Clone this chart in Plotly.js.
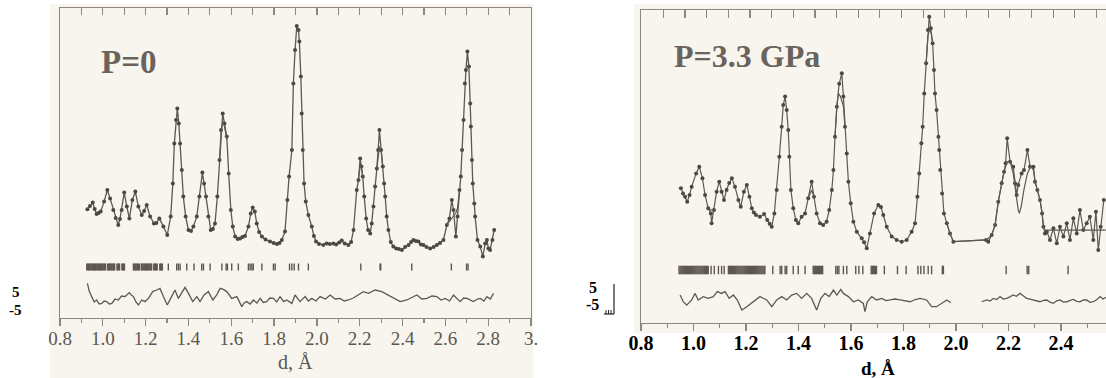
<!DOCTYPE html>
<html>
<head>
<meta charset="utf-8">
<script src="https://cdn.plot.ly/plotly-3.0.1.min.js"></script>
<style>html,body{margin:0;padding:0;background:#fff;}#chart{width:1106px;height:378px;}</style>
</head>
<body>
<div id="chart"></div>
<script>
// ---------- DATA (d in Å, intensity in arbitrary units; difference in the ±5 scale) ----------
const panelTitles = ["P=0", "P=3.3 GPa"];
const axisTitle = "d, Å";
const tickValsL = [0.8,1.0,1.2,1.4,1.6,1.8,2.0,2.2,2.4,2.6,2.8,3.0];
const tickTextL = ["0.8","1.0","1.2","1.4","1.6","1.8","2.0","2.2","2.4","2.6","2.8","3."];
const tickValsR = [0.8,1.0,1.2,1.4,1.6,1.8,2.0,2.2,2.4];
const tickTextR = ["0.8","1.0","1.2","1.4","1.6","1.8","2.0","2.2","2.4"];
const diffLabels = ["5","-5"];

// P=0 observed profile [d, I]
const obsL = [[0.928,45.4],[0.940,47.0],[0.953,48.7],[0.962,45.5],[0.971,43],[0.980,43.5],[0.990,44.2],[1.006,49.2],[1.021,55],[1.034,50.8],[1.049,45],[1.060,41],[1.072,37.5],[1.080,40.5],[1.088,45],[1.100,53.7],[1.112,46.7],[1.124,40.8],[1.138,50],[1.152,54.2],[1.166,46.7],[1.182,42.5],[1.193,44.5],[1.205,47.5],[1.221,41.7],[1.239,38.3],[1.250,38.5],[1.264,40.8],[1.283,36.7],[1.301,32.5],[1.317,41.7],[1.327,58.3],[1.334,78.3],[1.342,90],[1.348,95.8],[1.355,88.3],[1.361,78.3],[1.369,65],[1.376,51.7],[1.387,41.7],[1.400,35],[1.412,34.5],[1.423,36.7],[1.439,41.7],[1.451,51.7],[1.465,63.7],[1.473,58.3],[1.482,51.7],[1.493,41.7],[1.504,35],[1.514,35.5],[1.524,38.3],[1.535,51.7],[1.545,70],[1.552,85],[1.560,93.3],[1.568,88.3],[1.579,81.7],[1.588,63.3],[1.598,45],[1.607,36.7],[1.618,31.7],[1.630,30.5],[1.641,30.8],[1.652,31.5],[1.664,32],[1.680,36.7],[1.691,43.3],[1.700,46.3],[1.710,44.2],[1.719,38.3],[1.730,34],[1.743,31.7],[1.760,30.2],[1.781,29.2],[1.798,28.5],[1.813,28],[1.825,28.5],[1.836,30],[1.851,34.2],[1.862,50],[1.870,61.7],[1.883,75],[1.890,108.3],[1.898,125],[1.906,137],[1.914,135],[1.918,129.2],[1.925,111.7],[1.929,93.3],[1.934,75],[1.940,58.3],[1.948,49.2],[1.960,42.5],[1.976,36.7],[1.986,32],[1.996,29.2],[2.010,28],[2.030,27.5],[2.045,28.3],[2.060,28],[2.077,28.3],[2.090,27.8],[2.104,28.8],[2.116,29.7],[2.130,28.2],[2.147,27.5],[2.160,29],[2.171,35],[2.186,55],[2.194,60],[2.202,70.8],[2.208,66.7],[2.214,61.7],[2.221,51.7],[2.230,40.8],[2.239,35],[2.249,33.3],[2.256,38.3],[2.264,46.7],[2.272,56.7],[2.280,65.8],[2.286,75],[2.292,85],[2.300,75],[2.308,66.7],[2.314,58.3],[2.319,51.7],[2.326,41.7],[2.334,35],[2.345,29],[2.357,26.7],[2.370,25.8],[2.383,25.5],[2.397,25],[2.412,26.5],[2.428,27.5],[2.440,29],[2.451,30],[2.462,29.5],[2.474,29.2],[2.486,27.8],[2.498,27.5],[2.512,26.5],[2.529,25.8],[2.545,26.5],[2.560,27.5],[2.575,28.5],[2.591,30],[2.607,37.5],[2.619,40.8],[2.630,50],[2.638,45],[2.649,31.7],[2.657,41.7],[2.666,55],[2.672,61.7],[2.678,75],[2.685,90],[2.691,108.3],[2.696,115],[2.703,124.2],[2.710,116.7],[2.716,98.3],[2.719,86.7],[2.724,70],[2.728,58.3],[2.735,48.3],[2.739,41.7],[2.750,30],[2.763,26.7],[2.775,21.7],[2.786,28.3],[2.794,30],[2.801,25.8],[2.809,25],[2.820,30],[2.828,35]];

// P=0 calculated profile where it departs from the observed points (null = break)
const calcL = [[1.545,70],[1.552,84],[1.560,89],[1.568,87],[1.579,80],[null,null],
  [2.194,60],[2.202,66.7],[2.208,66.7],[2.214,61.7],[null,null],
  [2.280,65.8],[2.286,73],[2.292,76.7],[2.300,75],[2.308,66.7],[null,null],
  [2.607,37.5],[2.619,39.5],[2.630,41],[2.638,42],[2.649,43.5],[2.657,46],[2.666,55]];

// P=0 difference curve
const diffL = [[0.928,8.3],[0.937,4.2],[0.948,1.7],[0.960,-1],[0.971,0],[0.983,-2],[0.995,-1.7],[1.006,-0.5],[1.018,-0.8],[1.030,-2],[1.042,-1.7],[1.057,0.5],[1.072,0],[1.088,2],[1.104,1.7],[1.124,3.7],[1.133,2.5],[1.143,1.7],[1.155,-1],[1.166,-2.5],[1.182,0],[1.197,-0.8],[1.213,0.8],[1.233,4.2],[1.252,5],[1.267,5.8],[1.283,1.7],[1.301,-2.5],[1.317,0.8],[1.337,5],[1.353,0.8],[1.369,3.3],[1.384,6.3],[1.400,3.3],[1.420,-0.8],[1.439,1.7],[1.454,-0.8],[1.473,2.5],[1.493,4.2],[1.514,0],[1.532,2.5],[1.548,5.8],[1.563,5.3],[1.579,4.2],[1.602,0.8],[1.626,1.7],[1.649,-3.3],[1.660,-1.5],[1.672,-0.8],[1.688,-2],[1.703,0],[1.720,-1.5],[1.735,0.8],[1.750,-1.2],[1.766,-0.8],[1.780,1],[1.797,0.8],[1.812,-1],[1.828,1.7],[1.845,-0.8],[1.859,0],[1.883,-1.7],[1.898,2.5],[1.921,-0.8],[1.945,1.7],[1.960,-0.5],[1.976,0.8],[1.995,-0.5],[2.015,1.7],[2.040,0.5],[2.062,2.5],[2.085,0.5],[2.108,0.8],[2.128,-0.5],[2.147,0],[2.170,1],[2.194,2.5],[2.217,4.2],[2.241,3.3],[2.272,5],[2.303,4.2],[2.334,2.5],[2.365,0.8],[2.389,-0.8],[2.420,0],[2.445,1.5],[2.467,2.5],[2.490,0.5],[2.514,0.8],[2.537,2],[2.560,1.7],[2.580,0],[2.599,0.8],[2.620,-0.5],[2.638,2.5],[2.669,-0.8],[2.685,1],[2.701,0.8],[2.731,-0.8],[2.750,0.5],[2.763,0.8],[2.780,-0.5],[2.794,1.7],[2.810,0.5],[2.825,3.3]];

// P=0 reflection positions
const reflL = [0.925,0.929,0.933,0.937,0.941,0.945,0.949,0.953,0.957,0.961,0.965,0.969,0.973,0.977,0.981,0.985,0.989,0.993,0.997,1.001,1.005,1.009,1.013,1.023,1.027,1.031,1.035,1.039,1.043,1.047,1.051,1.055,1.066,1.070,1.074,1.078,1.089,1.093,1.097,1.101,1.143,1.147,1.151,1.155,1.159,1.163,1.167,1.171,1.180,1.184,1.188,1.192,1.196,1.200,1.204,1.208,1.212,1.216,1.220,1.224,1.228,1.238,1.242,1.246,1.250,1.254,1.266,1.270,1.274,1.278,1.306,1.345,1.353,1.361,1.392,1.426,1.462,1.470,1.501,1.556,1.576,1.582,1.602,1.633,1.680,1.688,1.696,1.703,1.743,1.797,1.805,1.872,1.883,1.894,1.914,1.960,2.205,2.295,2.298,2.443,2.628,2.699,2.706];

// P=3.3 GPa observed profile [d, I]
const obsR = [[0.952,66.7],[0.960,63.5],[0.968,61.4],[0.976,58.3],[0.985,62.5],[0.993,67.7],[1.010,76],[1.022,80.2],[1.034,72.9],[1.044,62.5],[1.056,54.2],[1.066,51],[1.069,44.8],[1.078,53.1],[1.088,64.6],[1.098,70.8],[1.107,64.6],[1.116,59.4],[1.126,65.6],[1.136,70],[1.146,72.9],[1.158,67.7],[1.171,59.4],[1.180,55.2],[1.192,64.6],[1.203,68.8],[1.213,61.4],[1.222,54.2],[1.230,51.5],[1.238,50],[1.253,48.9],[1.269,50.6],[1.281,46.9],[1.290,44.5],[1.298,42.7],[1.308,51],[1.317,65.6],[1.327,86.4],[1.336,105.2],[1.342,118.8],[1.349,124],[1.355,115.6],[1.361,103.1],[1.365,86.4],[1.371,65.6],[1.380,54.2],[1.390,46.9],[1.399,44.8],[1.412,48.9],[1.425,51],[1.437,60.4],[1.450,70.8],[1.459,61.4],[1.469,51],[1.482,44.8],[1.494,43.8],[1.507,45.8],[1.517,53.1],[1.527,65.6],[1.533,78.1],[1.539,98.9],[1.546,117.7],[1.555,132],[1.565,138.5],[1.571,124],[1.577,105.2],[1.584,88.5],[1.590,70.8],[1.599,57.3],[1.609,45.8],[1.622,39.6],[1.641,35.4],[1.650,33],[1.660,29.2],[1.672,38.5],[1.688,51],[1.704,56.3],[1.714,55],[1.723,50],[1.736,42.7],[1.755,36.5],[1.774,34.4],[1.793,33.3],[1.812,34.4],[1.831,39.6],[1.844,44.8],[1.853,61.4],[1.860,76],[1.868,94.8],[1.873,105.2],[1.879,126],[1.886,144.8],[1.893,165.6],[1.898,173.9],[1.904,166.7],[1.911,157.3],[1.916,140.6],[1.920,126],[1.926,115.6],[1.933,98.9],[1.936,90.6],[1.940,78.1],[1.947,63.5],[1.954,51],[1.965,44.8],[1.977,38.5],[1.990,33.3],[2.114,34.4],[2.123,33.3],[2.136,37.5],[2.149,43.8],[2.161,58.3],[2.174,69.8],[2.183,77.1],[2.189,82.3],[2.195,97.9],[2.206,83.3],[2.218,80.2],[2.225,69.8],[2.231,62.5],[2.237,68.8],[2.250,76],[2.259,78.1],[2.272,90.6],[2.282,80.2],[2.295,80.2],[2.301,70.8],[2.310,65.6],[2.320,59.4],[2.328,51],[2.333,42.7],[2.339,38.5],[2.346,39.6],[2.358,34.4],[2.371,41.7],[2.384,32.3],[2.396,42.7],[2.409,36.5],[2.422,44.8],[2.434,34.4],[2.447,47.9],[2.460,38.5],[2.472,53.1],[2.485,40.6],[2.498,44.8],[2.510,48.9],[2.523,34.4],[2.533,52.1],[2.542,28.1],[2.551,42.7],[2.563,59.4]];

// P=3.3 GPa calculated profile where it departs from the observed points
const calcR = [[1.056,54.2],[1.066,53],[1.078,53.1],[null,null],
  [1.437,60.4],[1.450,65.6],[1.459,61.4],[null,null],
  [1.539,98.9],[1.546,117.7],[1.552,126],[1.560,124],[1.571,118],[1.577,105.2],[null,null],
  [1.886,144.8],[1.893,162],[1.900,166.5],[1.906,163],[1.911,157.3],[null,null],
  [1.965,44.8],[1.977,38.5],[1.990,33.3],[2.117,34.4],[2.136,37.5],[2.149,43.8],[2.161,58.3],[2.174,69.8],[2.183,77.1],[2.195,83.3],[2.206,83.3],[2.218,76],[2.228,62],[2.237,53],[2.241,51],[2.248,55],[2.259,66],[2.272,76],[2.285,80.6],[2.295,78],[2.301,70.8],[2.310,65.6],[2.320,59.4],[2.328,51],[2.333,43],[2.339,40.6],[2.400,40.6],[2.480,40.6],[2.571,40.6]];

// P=3.3 GPa difference curve (gap where no data)
const diffR = [[0.949,0],[0.961,-4.2],[0.974,-6.3],[0.993,-3.1],[1.006,1],[1.018,-3.1],[1.037,-1],[1.056,-2.1],[1.075,-1],[1.091,2.1],[1.107,1],[1.120,2.1],[1.136,-2.1],[1.152,0],[1.167,-3.1],[1.184,-9.4],[1.203,-7.3],[1.228,-4.2],[1.253,-1],[1.279,-3.1],[1.298,-7.3],[1.317,-3.1],[1.336,-1],[1.355,-3.1],[1.374,0],[1.393,1],[1.412,-2.1],[1.431,1],[1.450,-2.1],[1.469,-9.4],[1.485,-2.1],[1.501,1],[1.517,-1],[1.533,3.1],[1.546,0],[1.561,3.5],[1.571,1],[1.590,-1],[1.609,-4.2],[1.628,-3.1],[1.647,-5.2],[1.653,-10.4],[1.662,-4.2],[1.679,-1],[1.698,-3.1],[1.717,-2.1],[1.733,-3.5],[1.749,-3.1],[1.768,-2.5],[1.787,-3.1],[1.806,-3.6],[1.825,-4.2],[1.845,-2.8],[1.863,-2.1],[1.888,-3.1],[1.907,-7.3],[1.926,-7.3],[1.946,-5.2],[1.965,-3.1],[1.980,-4.8],[null,null],[2.098,-4.2],[2.117,-3.1],[2.130,-3.8],[2.142,-2.1],[2.155,-2.8],[2.168,-1],[2.180,-2.5],[2.193,-2.1],[2.205,-1.2],[2.218,0],[2.230,-0.8],[2.244,1],[2.256,-0.5],[2.269,-2.1],[2.282,-2.5],[2.295,-3.1],[2.308,-3.6],[2.320,-4.2],[2.333,-3.3],[2.346,-3.1],[2.358,-4.5],[2.371,-5.2],[2.384,-3.6],[2.396,-3.1],[2.409,-4.4],[2.422,-4.2],[2.435,-3.3],[2.447,-2.7],[2.460,-4.0],[2.472,-4.2],[2.485,-3.0],[2.498,-3.1],[2.510,-4.6],[2.523,-4.2],[2.536,-3.0],[2.549,-1],[2.560,-2.5],[2.571,-1.5]];

// P=3.3 GPa reflection positions
const reflR = [0.945,0.949,0.953,0.957,0.961,0.965,0.969,0.973,0.977,0.981,0.985,0.989,0.993,0.997,1.001,1.005,1.009,1.013,1.017,1.021,1.025,1.029,1.033,1.037,1.041,1.045,1.049,1.053,1.056,1.067,1.079,1.095,1.107,1.117,1.133,1.137,1.141,1.145,1.149,1.153,1.157,1.161,1.165,1.169,1.173,1.177,1.181,1.185,1.189,1.193,1.197,1.201,1.205,1.209,1.213,1.217,1.221,1.225,1.229,1.233,1.237,1.241,1.245,1.249,1.253,1.257,1.261,1.265,1.269,1.272,1.302,1.330,1.336,1.349,1.355,1.380,1.399,1.425,1.456,1.460,1.464,1.468,1.472,1.476,1.480,1.484,1.488,1.492,1.542,1.548,1.554,1.571,1.584,1.618,1.630,1.645,1.677,1.681,1.685,1.689,1.693,1.697,1.727,1.777,1.810,1.855,1.866,1.878,1.894,1.907,1.948,1.952,2.191,2.271,2.277,2.427];

// ---------- STYLE / LAYOUT CONSTANTS ----------
const W = 1106, H = 378;
const ink = '#5f5850', dotInk = '#4f4841', frame = '#8c877f';
const TICK_ROW_L = 16.5, TICK_ROW_R = 15.6;
const px = v => v / W, py = v => (H - v) / H;

const xs = a => a.map(p => p[0]);
const ys = a => a.map(p => p[1]);

const traces = [
  {x: xs(obsL), y: ys(obsL), xaxis: 'x', yaxis: 'y', mode: 'lines+markers', line: {color: ink, width: 1.3}, marker: {size: 4, color: dotInk}, hoverinfo: 'skip'},
  {x: xs(calcL), y: ys(calcL), xaxis: 'x', yaxis: 'y', mode: 'lines', line: {color: ink, width: 1.2}, connectgaps: false, hoverinfo: 'skip'},
  {x: xs(diffL), y: ys(diffL), xaxis: 'x', yaxis: 'y', mode: 'lines', line: {color: ink, width: 1.3}, hoverinfo: 'skip'},
  {x: reflL, y: reflL.map(() => TICK_ROW_L), xaxis: 'x', yaxis: 'y', mode: 'markers', marker: {symbol: 'line-ns', size: 5, line: {width: 1.4, color: '#5e574f'}}, hoverinfo: 'skip'},
  {x: xs(obsR), y: ys(obsR), xaxis: 'x2', yaxis: 'y2', mode: 'lines+markers', line: {color: ink, width: 1.2}, marker: {size: 4, color: dotInk}, hoverinfo: 'skip'},
  {x: xs(calcR), y: ys(calcR), xaxis: 'x2', yaxis: 'y2', mode: 'lines', line: {color: ink, width: 1.2}, connectgaps: false, hoverinfo: 'skip'},
  {x: xs(diffR), y: ys(diffR), xaxis: 'x2', yaxis: 'y2', mode: 'lines', line: {color: ink, width: 1.3}, connectgaps: false, hoverinfo: 'skip'},
  {x: reflR, y: reflR.map(() => TICK_ROW_R), xaxis: 'x2', yaxis: 'y2', mode: 'markers', marker: {symbol: 'line-ns', size: 6, line: {width: 1.4, color: '#5e574f'}}, hoverinfo: 'skip'},
  // carriers for the top (inside-tick) axes
  {x: [1.5], y: [null], xaxis: 'x3', yaxis: 'y', mode: 'markers', hoverinfo: 'skip'},
  {x: [1.5], y: [null], xaxis: 'x4', yaxis: 'y2', mode: 'markers', hoverinfo: 'skip'}
];

const minorL = [0.9,1.1,1.3,1.5,1.7,1.9,2.1,2.3,2.5,2.7,2.9];
const minorR = [0.9,1.1,1.3,1.5,1.7,1.9,2.1,2.3,2.5];

const serif = 'Liberation Serif, Times New Roman, serif';
const baseX = {showgrid: false, zeroline: false, showline: true, linecolor: frame, linewidth: 1.4, tickcolor: frame, tickwidth: 1.2};
const baseY = {showgrid: false, zeroline: false, showline: true, linecolor: frame, linewidth: 1.4, ticks: '', showticklabels: false, fixedrange: true};

const layout = {
  width: W, height: H, margin: {l: 0, r: 0, t: 0, b: 0},
  paper_bgcolor: '#ffffff', plot_bgcolor: 'rgba(0,0,0,0)', showlegend: false,
  xaxis: Object.assign({}, baseX, {domain: [px(60), px(531)], range: [0.8, 3.0], anchor: 'y',
    tickmode: 'array', tickvals: tickValsL, ticktext: tickTextL, ticks: 'outside', ticklen: 7, ticklabelstandoff: -4,
    tickfont: {family: serif, size: 19, color: '#5c5650'},
    minor: {tickmode: 'array', tickvals: minorL, ticks: 'outside', ticklen: 4, tickcolor: frame, showgrid: false}}),
  xaxis3: Object.assign({}, baseX, {overlaying: 'x', side: 'top', anchor: 'y', range: [0.8, 3.0],
    tickmode: 'linear', tick0: 0.8, dtick: 0.1, ticks: 'inside', ticklen: 7, showticklabels: false}),
  yaxis: Object.assign({}, baseY, {domain: [py(318), py(8)], range: [-9, 146], anchor: 'x', mirror: true}),
  xaxis2: Object.assign({}, baseX, {domain: [px(641), 1], range: [0.8, 2.5714], anchor: 'y2',
    tickmode: 'array', tickvals: tickValsR, ticktext: tickTextR, ticks: 'outside', ticklen: 7, ticklabelstandoff: -5,
    tickfont: {family: serif, size: 20, color: '#000000', weight: 'bold'},
    minor: {tickmode: 'array', tickvals: minorR, ticks: 'outside', ticklen: 4, tickcolor: frame, showgrid: false}}),
  xaxis4: Object.assign({}, baseX, {overlaying: 'x2', side: 'top', anchor: 'y2', range: [0.8, 2.5714],
    tickmode: 'linear', tick0: 0.885, dtick: 0.0825, ticks: 'inside', ticklen: 8, showticklabels: false}),
  yaxis2: Object.assign({}, baseY, {domain: [py(322.7), py(10)], range: [-17.3, 178.1], anchor: 'x2', mirror: false}),
  shapes: [
    {type: 'rect', xref: 'paper', yref: 'paper', x0: px(50), x1: px(533), y0: 0, y1: py(4), fillcolor: '#f7f5ee', line: {width: 0}, layer: 'below'},
    {type: 'rect', xref: 'paper', yref: 'paper', x0: px(634), x1: 1, y0: py(333), y1: py(4), fillcolor: '#f7f5ee', line: {width: 0}, layer: 'below'},
    // small difference-scale ruler beside the P=3.3 GPa labels
    {type: 'line', xref: 'paper', yref: 'paper', x0: px(614), x1: px(614), y0: py(314), y1: py(284), line: {color: '#222', width: 1.2}},
    {type: 'line', xref: 'paper', yref: 'paper', x0: px(604), x1: px(614), y0: py(314), y1: py(314), line: {color: '#222', width: 1.2}},
    {type: 'line', xref: 'paper', yref: 'paper', x0: px(606), x1: px(606), y0: py(314), y1: py(310), line: {color: '#222', width: 1}},
    {type: 'line', xref: 'paper', yref: 'paper', x0: px(608.5), x1: px(608.5), y0: py(314), y1: py(310), line: {color: '#222', width: 1}},
    {type: 'line', xref: 'paper', yref: 'paper', x0: px(611), x1: px(611), y0: py(314), y1: py(310), line: {color: '#222', width: 1}}
  ],
  annotations: [
    {text: '<b>' + panelTitles[0] + '</b>', xref: 'paper', yref: 'paper', x: px(128), y: py(62), showarrow: false, xanchor: 'center', yanchor: 'middle', font: {family: serif, size: 33, color: '#6a635b'}},
    {text: '<b>' + panelTitles[1] + '</b>', xref: 'paper', yref: 'paper', x: px(747), y: py(56), showarrow: false, xanchor: 'center', yanchor: 'middle', font: {family: serif, size: 32, color: '#6a635b'}},
    {text: axisTitle, xref: 'paper', yref: 'paper', x: px(295), y: py(362), showarrow: false, xanchor: 'center', yanchor: 'middle', font: {family: serif, size: 20, color: '#5c5650'}},
    {text: '<b>' + axisTitle + '</b>', xref: 'paper', yref: 'paper', x: px(878), y: py(368), showarrow: false, xanchor: 'center', yanchor: 'middle', font: {family: serif, size: 19, color: '#000'}},
    {text: '<b>' + diffLabels[0] + '</b>', xref: 'paper', yref: 'y', x: px(16), y: 4, showarrow: false, xanchor: 'center', yanchor: 'middle', font: {family: serif, size: 15, color: '#000'}},
    {text: '<b>' + diffLabels[1] + '</b>', xref: 'paper', yref: 'y', x: px(15), y: -5, showarrow: false, xanchor: 'center', yanchor: 'middle', font: {family: serif, size: 15, color: '#000'}},
    {text: '<b>' + diffLabels[0] + '</b>', xref: 'paper', yref: 'y2', x: px(593), y: 5, showarrow: false, xanchor: 'center', yanchor: 'middle', font: {family: serif, size: 16, color: '#000'}},
    {text: '<b>' + diffLabels[1] + '</b>', xref: 'paper', yref: 'y2', x: px(592), y: -6, showarrow: false, xanchor: 'center', yanchor: 'middle', font: {family: serif, size: 16, color: '#000'}}
  ]
};

Plotly.newPlot('chart', traces, layout, {staticPlot: true, displayModeBar: false});
</script>
</body>
</html>
